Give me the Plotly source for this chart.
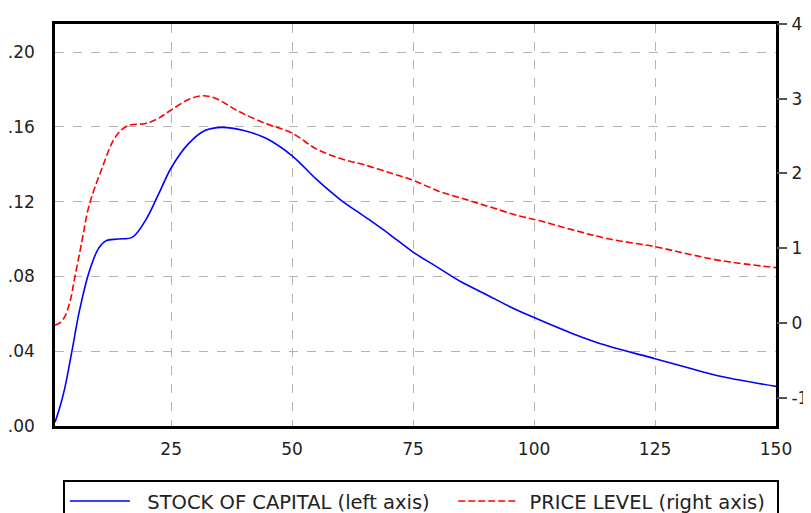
import plotly.graph_objects as go

# Stock of capital (left axis)
capital_t = [1, 2, 3, 4.5, 6, 8, 10, 11.5, 14, 17, 19.7, 22.4, 25, 28.6, 32, 35.5, 40,
             44.5, 50, 55, 60, 65, 70, 75, 80, 85, 90, 95, 100, 108, 115, 125, 132, 139, 150]
capital_v = [0.002, 0.010, 0.020, 0.040, 0.061, 0.082, 0.095, 0.099, 0.100, 0.101, 0.110,
             0.124, 0.138, 0.151, 0.158, 0.1597, 0.158, 0.154, 0.1445, 0.132, 0.121, 0.112,
             0.1028, 0.093, 0.085, 0.077, 0.0705, 0.0638, 0.058, 0.0494, 0.043, 0.036, 0.031,
             0.0263, 0.0212]

# Price level (right axis)
price_t = [1, 2, 3, 4.2, 5, 6.5, 8, 10.6, 13.5, 16, 19.7, 22.4, 25, 28.6, 31.3, 34, 39,
           44.5, 50, 55, 60, 65, 70.7, 75, 80, 86, 91, 97, 101, 108, 115, 125, 132, 139, 150]
price_v = [-0.03, 0.0, 0.08, 0.31, 0.58, 1.07, 1.56, 2.05, 2.49, 2.64, 2.67, 2.74, 2.85,
           2.99, 3.04, 3.01, 2.83, 2.67, 2.54, 2.33, 2.20, 2.115, 2.00, 1.91, 1.77, 1.65,
           1.55, 1.43, 1.37, 1.245, 1.13, 1.02, 0.92, 0.83, 0.74]

left_ticks = [0, 0.04, 0.08, 0.12, 0.16, 0.20]
left_labels = [".00", ".04", ".08", ".12", ".16", ".20"]
right_ticks = [-1, 0, 1, 2, 3, 4]
right_labels = ["-1", "0", "1", "2", "3", "4"]
x_ticks = [25, 50, 75, 100, 125, 150]

NB = "\u00a0"
name_capital = NB * 2 + "STOCK OF CAPITAL (left axis)" + NB * 3
name_price = NB + "PRICE LEVEL (right axis)" + NB

FONT = "DejaVu Sans"

fig = go.Figure()
fig.add_trace(go.Scatter(
    x=capital_t, y=capital_v, mode="lines", name=name_capital,
    line=dict(color="#0000ff", width=1.6, shape="spline"), yaxis="y"))
fig.add_trace(go.Scatter(
    x=price_t, y=price_v, mode="lines", name=name_price,
    line=dict(color="#ff0000", width=1.6, shape="spline", dash="7px,3px"), yaxis="y2"))

fig.update_layout(
    width=803, height=505,
    margin=dict(l=47, r=35, t=16, b=87, autoexpand=False),
    paper_bgcolor="white", plot_bgcolor="white",
    font=dict(family=FONT, size=17, color="#222"),
    xaxis=dict(
        range=[1, 150], tickvals=x_ticks, showgrid=True, gridcolor="#b4b4b4",
        griddash="dash", gridwidth=1, zeroline=False, showline=True, linecolor="black",
        linewidth=2.5, mirror=True, ticks="", ticklabelstandoff=6,
        tickfont=dict(family=FONT, size=17, color="#222")),
    yaxis=dict(
        range=[0, 0.215], tickvals=left_ticks, ticktext=left_labels, showgrid=True,
        gridcolor="#b4b4b4", griddash="dash", gridwidth=1, zeroline=False,
        showline=True, linecolor="black", linewidth=2.5, mirror=True, ticks="",
        ticklabelstandoff=14, tickfont=dict(family=FONT, size=17, color="#222")),
    yaxis2=dict(
        range=[-1.38, 4.001], tickvals=right_ticks, ticktext=right_labels,
        overlaying="y", side="right",
        showgrid=False, zeroline=False, showline=False, ticks="outside", ticklen=10,
        tickwidth=2, tickcolor="#555", ticklabelstandoff=1,
        tickfont=dict(family=FONT, size=17, color="#222")),
    legend=dict(
        orientation="h", x=0.011, y=-0.134, xanchor="left", yanchor="top",
        bordercolor="black", borderwidth=2, bgcolor="white",
        font=dict(family=FONT, size=19.5, color="#222"), itemwidth=60,
        tracegroupgap=0),
    showlegend=True,
)

fig.write_html("out.html")
